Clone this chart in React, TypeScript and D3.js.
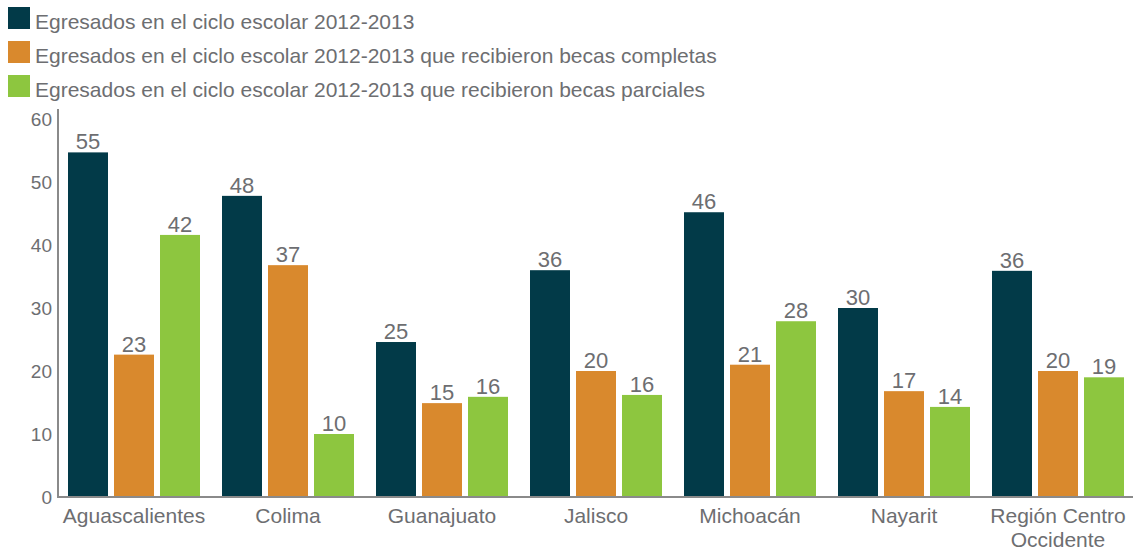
import React from "react";
import * as d3 from "d3";

const categories = [
  "Aguascalientes",
  "Colima",
  "Guanajuato",
  "Jalisco",
  "Michoacán",
  "Nayarit",
  "Región Centro Occidente",
];

const seriesNames = [
  "Egresados en el ciclo escolar 2012-2013",
  "Egresados en el ciclo escolar 2012-2013 que recibieron becas completas",
  "Egresados en el ciclo escolar 2012-2013 que recibieron becas parciales",
];

const egresados = [54.7, 47.8, 24.6, 36.0, 45.2, 30.0, 35.9];
const becasCompletas = [22.6, 36.8, 14.9, 20.0, 21.0, 16.8, 20.0];
const becasParciales = [41.6, 10.0, 15.9, 16.2, 27.9, 14.3, 19.0];

const egresadosLabels = [55, 48, 25, 36, 46, 30, 36];
const completasLabels = [23, 37, 15, 20, 21, 17, 20];
const parcialesLabels = [42, 10, 16, 16, 28, 14, 19];

const yTicks = [0, 10, 20, 30, 40, 50, 60];

const colors = ["#023a48", "#d9892d", "#8dc63f"];
const textColor = "#6d6e71";
const axisColor = "#8a8a8a";
const font = "'Liberation Sans', Arial, sans-serif";

export default function App() {
  const width = 1135;
  const height = 550;
  const series = [egresados, becasCompletas, becasParciales];
  const labels = [egresadosLabels, completasLabels, parcialesLabels];

  const x0 = d3
    .scaleBand<string>()
    .domain(categories)
    .range([57, 1135])
    .paddingInner(22 / 154)
    .paddingOuter(11 / 154);
  const x1 = d3
    .scaleBand<number>()
    .domain([0, 1, 2])
    .range([0, x0.bandwidth()])
    .paddingInner(6 / 46)
    .paddingOuter(0);
  const y = d3.scaleLinear().domain([0, 60]).range([497, 119]);

  return (
    <svg
      width={width}
      height={height}
      style={{ position: "absolute", left: 0, top: 0, background: "#fff" }}
      fontFamily={font}
    >
      {/* legend */}
      {seriesNames.map((name, i) => (
        <g key={name} transform={`translate(8, ${7 + i * 34})`}>
          <rect width={22} height={22} fill={colors[i]} />
          <text x={27} y={21.5} fontSize={21} fill={textColor}>
            {name}
          </text>
        </g>
      ))}

      {/* y ticks */}
      {yTicks.map((t) => (
        <text
          key={t}
          x={52}
          y={y(t)}
          dy="0.35em"
          textAnchor="end"
          fontSize={19}
          fill={textColor}
        >
          {t}
        </text>
      ))}

      {/* bars */}
      {categories.map((c, ci) => (
        <g key={c} transform={`translate(${x0(c)},0)`}>
          {series.map((s, si) => (
            <g key={si}>
              <rect
                x={x1(si)}
                y={y(s[ci])}
                width={x1.bandwidth()}
                height={y(0) - y(s[ci])}
                fill={colors[si]}
              />
              <text
                x={(x1(si) as number) + x1.bandwidth() / 2}
                y={y(s[ci]) - 3}
                textAnchor="middle"
                fontSize={22}
                fill={textColor}
              >
                {labels[si][ci]}
              </text>
            </g>
          ))}
        </g>
      ))}

      {/* axes */}
      <line x1={58} x2={58} y1={109} y2={498} stroke={axisColor} strokeWidth={2} />
      <line x1={57} x2={1133} y1={497} y2={497} stroke={axisColor} strokeWidth={2} />

      {/* category labels */}
      {categories.map((c) => {
        const cx = (x0(c) as number) + x0.bandwidth() / 2;
        const lines = c === "Región Centro Occidente" ? ["Región Centro", "Occidente"] : [c];
        return (
          <text key={c} textAnchor="middle" fontSize={21} fill={textColor}>
            {lines.map((l, li) => (
              <tspan key={li} x={cx} y={522.5 + li * 24}>
                {l}
              </tspan>
            ))}
          </text>
        );
      })}
    </svg>
  );
}
